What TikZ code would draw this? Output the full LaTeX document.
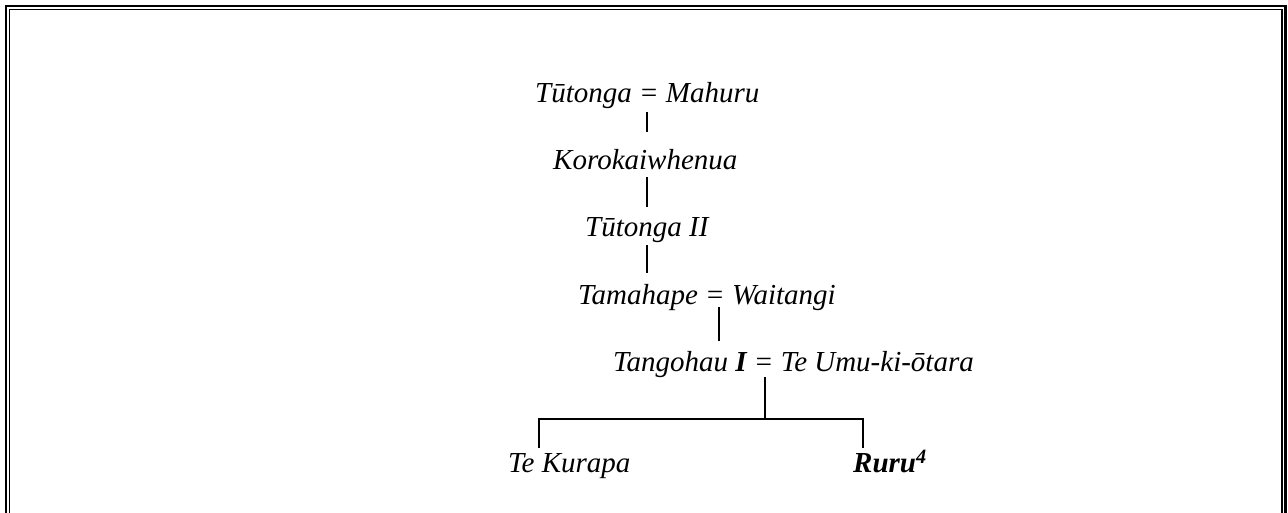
\documentclass[tikz,border=0pt]{standalone}
\usepackage{fontspec}
\setmainfont{Liberation Serif}
\begin{document}
\begin{tikzpicture}[x=1pt,y=1pt,
  person/.style={anchor=base west,inner sep=0pt,font=\fontsize{29}{32}\selectfont\itshape},
  link/.style={line width=1.6pt},
  outerframe/.style={line width=2.6pt},
  innerframe/.style={line width=1.5pt}]
\useasboundingbox (0,0) rectangle (1288,513);
% frame (open at bottom)
\draw[outerframe] (6,-5) -- (6,507) -- (1285.7,507) -- (1285.7,-5);
\draw[innerframe] (9.3,-5) -- (9.3,503.7) -- (1282,503.7) -- (1282,-5);
% people
\node[person] (tm) at (535,410) {Tūtonga = Mahuru};
\node[person] (kk) at (553,343) {Korokaiwhenua};
\node[person] (t2) at (585,276) {Tūtonga II};
\node[person] (tw) at (578,208) {Tamahape = Waitangi};
\node[person] (tu) at (613,141) {Tangohau \textbf{I} = Te Umu-ki-ōtara};
\node[person] (tk) at (508,40) {Te Kurapa};
\node[person] (rr) at (853,40) {\textbf{Ruru\textsuperscript{4}}};
% connector end points
\coordinate (a1) at (647,401); \coordinate (a2) at (647,381);
\coordinate (b1) at (647,336); \coordinate (b2) at (647,306);
\coordinate (c1) at (647,268); \coordinate (c2) at (647,240);
\coordinate (d1) at (719,206); \coordinate (d2) at (719,172);
\coordinate (e1) at (765,136); \coordinate (e2) at (765,94);
\coordinate (fl) at (539,94); \coordinate (fr) at (863,94);
\coordinate (gl) at (539,65); \coordinate (gr) at (863,65);
\draw[link] (a1) -- (a2);
\draw[link] (b1) -- (b2);
\draw[link] (c1) -- (c2);
\draw[link] (d1) -- (d2);
\draw[link] (e1) -- (e2);
\draw[link] (gl) -- (fl) -- (fr) -- (gr);
\end{tikzpicture}
\end{document}
